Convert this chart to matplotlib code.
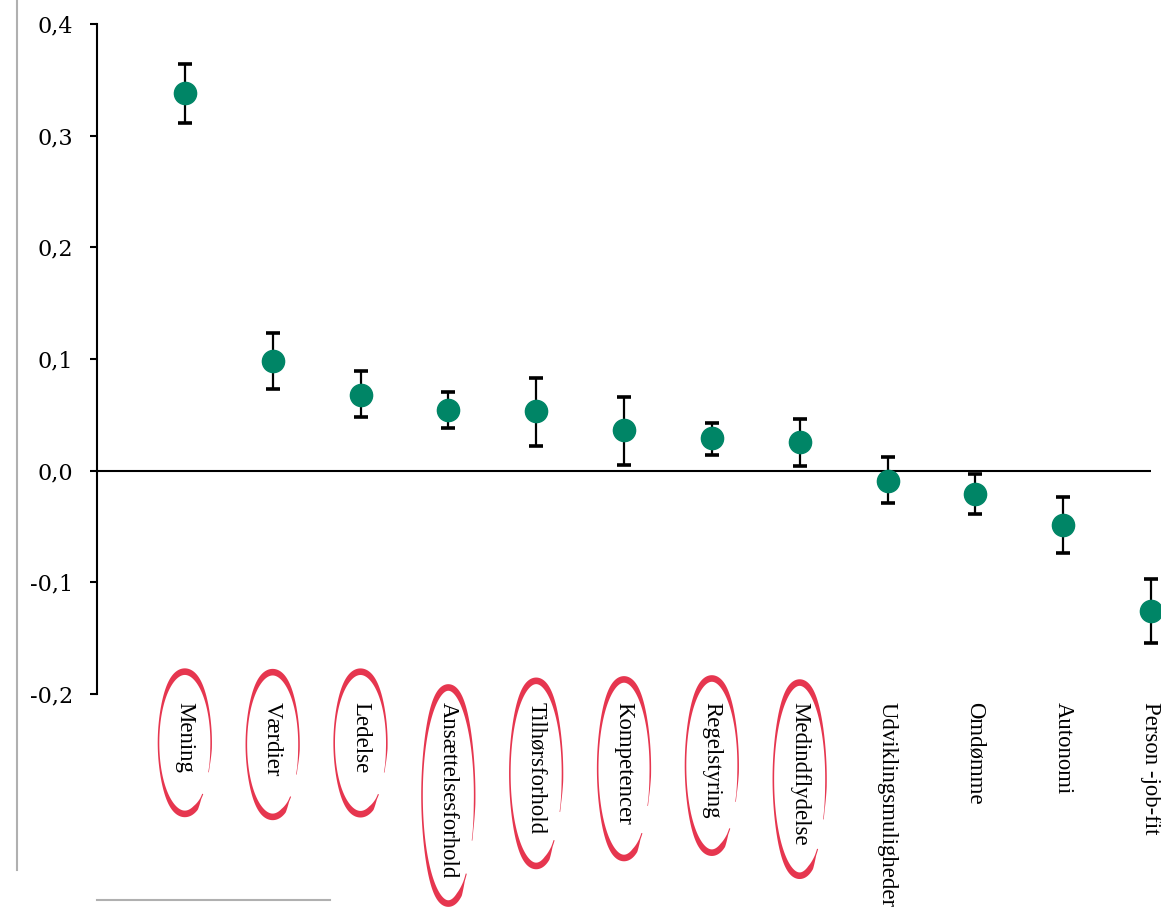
import matplotlib
matplotlib.use("Agg")
import matplotlib.pyplot as plt
import numpy as np
from matplotlib.lines import Line2D
from matplotlib.patches import Polygon

categories = [
    "Mening", "Værdier", "Ledelse", "Ansættelsesforhold", "Tilhørsforhold",
    "Kompetencer", "Regelstyring", "Medindflydelse", "Udviklingsmuligheder",
    "Omdømme", "Autonomi", "Person -job-fit",
]
estimates = [0.338, 0.098, 0.068, 0.054, 0.053, 0.036, 0.029, 0.026,
             -0.009, -0.021, -0.049, -0.126]
lower = [0.311, 0.073, 0.048, 0.038, 0.022, 0.005, 0.014, 0.004,
         -0.029, -0.039, -0.074, -0.154]
upper = [0.364, 0.123, 0.089, 0.070, 0.083, 0.066, 0.043, 0.046,
         0.012, -0.003, -0.024, -0.097]
circled = categories[:8]
y_ticks = [-0.2, -0.1, 0.0, 0.1, 0.2, 0.3, 0.4]

GREEN = "#008566"
RED = "#e6364f"
GREY = "#b0b0b0"


def _hand_oval(fig, bbox, color):
    # loose hand-drawn ring around a label, open on the lower right
    cx = (bbox.x0 + bbox.x1) / 2
    cy = (bbox.y0 + bbox.y1) / 2 - 5
    a = 26.0
    b = 0.35 * bbox.height + 45
    t = np.linspace(np.deg2rad(-25), np.deg2rad(313), 300)
    width = 1.6 + 5.0 * np.abs(np.sin(t)) ** 3
    taper = np.clip(np.minimum(t - t[0], t[-1] - t) / 0.35, 0.3, 1.0)
    width = width * taper
    xm = cx + a * np.cos(t)
    ym = cy + b * np.sin(t)
    nx = np.cos(t) / a
    ny = np.sin(t) / b
    norm = np.hypot(nx, ny)
    nx, ny = nx / norm, ny / norm
    outer = np.column_stack((xm + nx * width * 0.7, ym + ny * width * 0.7))
    inner = np.column_stack((xm - nx * width * 0.3, ym - ny * width * 0.3))
    pts = np.vstack((outer, inner[::-1]))
    pts = fig.transFigure.inverted().transform(pts)
    fig.add_artist(Polygon(pts, closed=True, facecolor=color,
                           edgecolor="none", transform=fig.transFigure))


fig = plt.figure(figsize=(11.61, 9.10), dpi=100)
ax = fig.add_axes([97 / 1161, 1 - 694 / 910, (1151 - 97) / 1161, (694 - 24) / 910])

x = np.arange(len(categories))
est = np.array(estimates)
yerr = np.vstack((est - np.array(lower), np.array(upper) - est))

ax.axhline(0, color="black", lw=1.5, zorder=1)
ax.errorbar(x, est, yerr=yerr, fmt="o", color=GREEN, markersize=16,
            ecolor="black", elinewidth=1.6, capsize=5.3, capthick=2.6,
            zorder=3, clip_on=False)

ax.set_xlim(-1, 11)
ax.set_ylim(-0.2, 0.4)
ax.set_yticks(y_ticks)
ax.set_yticklabels([f"{v:.1f}".replace(".", ",") for v in y_ticks],
                   family="DejaVu Serif", fontsize=16)
ax.set_xticks(x)
ax.set_xticklabels(categories, rotation=270, ha="center", va="top",
                   family="Liberation Serif", fontsize=16.4)
ax.tick_params(axis="y", length=5, width=1.5, pad=12, direction="out")
ax.tick_params(axis="x", length=0, pad=6)

for side in ("top", "right", "bottom"):
    ax.spines[side].set_visible(False)
ax.spines["left"].set_linewidth(1.5)

fig.add_artist(Line2D([17 / 1161, 17 / 1161], [1.0, 1 - 870 / 910],
                      color=GREY, lw=1.5, transform=fig.transFigure))
fig.add_artist(Line2D([97 / 1161, 330 / 1161], [1 - 900 / 910, 1 - 900 / 910],
                      color=GREY, lw=1.5, transform=fig.transFigure))

fig.canvas.draw()
renderer = fig.canvas.get_renderer()
for label in ax.get_xticklabels():
    if label.get_text() in circled:
        _hand_oval(fig, label.get_window_extent(renderer), RED)

fig.savefig("out.png", dpi=100)
